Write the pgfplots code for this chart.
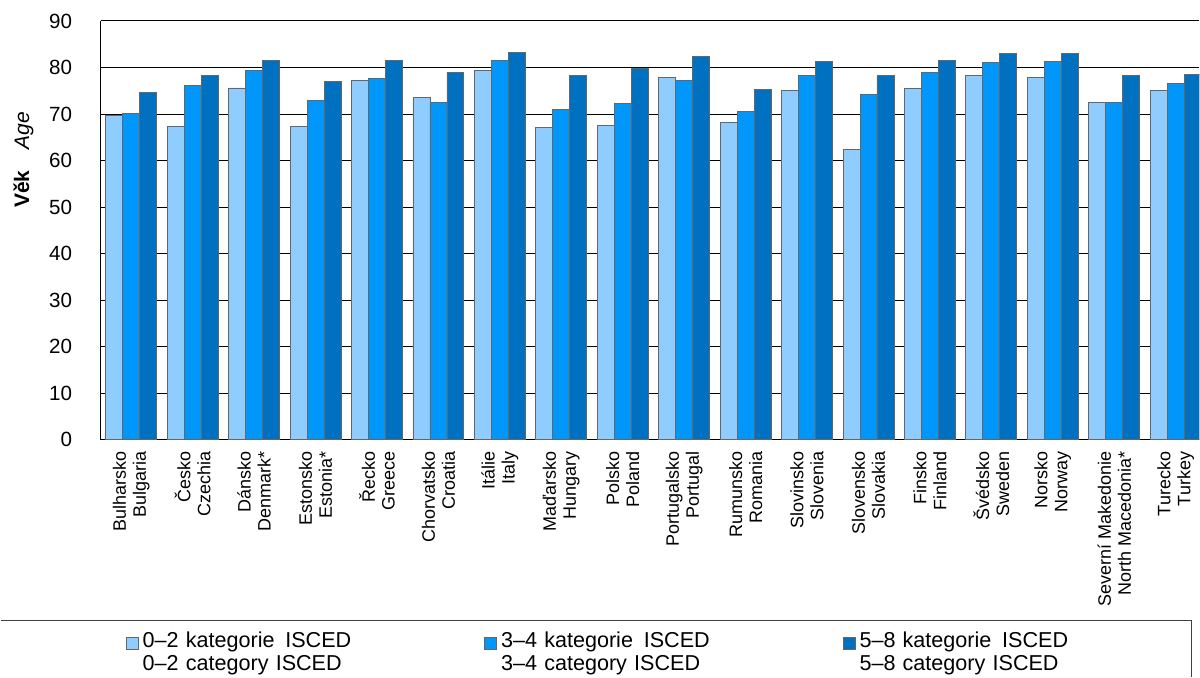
\documentclass[border=0pt]{standalone}
\usepackage{pgfplots}
\pgfplotsset{compat=1.18}
\usepackage{fontspec}
\setmainfont{Liberation Sans}

\definecolor{isA}{RGB}{143,204,255}
\definecolor{isB}{RGB}{0,150,250}
\definecolor{isC}{RGB}{0,112,192}

\begin{document}
\begin{tikzpicture}
% frame of the whole picture: 1200x678 px, 1px = 0.5pt
\path (0,0) rectangle (600pt,-339pt);
\begin{axis}[
    at={(50pt,-220pt)}, anchor=south west,
    scale only axis, width=550pt, height=209.5pt,
    ybar=0pt, bar width=8.5pt,
    % the reference is cut off inside the last group
    xmin=-0.5, xmax=17.386, ymin=0, ymax=90,
    axis x line*=bottom, axis y line*=left,
    ytick distance=10,
    xtick={0,...,17},
    xticklabels={{Bulharsko\\Bulgaria},{Česko\\Czechia},{Dánsko\\Denmark*},
        {Estonsko\\Estonia*},{Řecko\\Greece},{Chorvatsko\\Croatia},{Itálie\\Italy},
        {Maďarsko\\Hungary},{Polsko\\Poland},{Portugalsko\\Portugal},
        {Rumunsko\\Romania},{Slovinsko\\Slovenia},{Slovensko\\Slovakia},
        {Finsko\\Finland},{Švédsko\\Sweden},{Norsko\\Norway},
        {Severní Makedonie\\North Macedonia*},{Turecko\\Turkey}},
    xticklabel style={rotate=90, anchor=east, align=right,
        inner xsep=6pt, inner ysep=0pt,
        font=\fontsize{9}{10}\selectfont},
    yticklabel style={font=\fontsize{10.3}{12}\selectfont, inner sep=0pt, xshift=-14pt},
    /pgf/number format/assume math mode=true,
    major tick length=0pt,
    ymajorgrids,
    major grid style={black, line width=0.5pt},
    axis line style={black, line width=0.6pt, -},
    legend image code/.code={\draw[#1,draw=black!60,line width=0.4pt] (0pt,-3pt) rectangle (6pt,3pt);},
    legend cell align=left,
    legend columns=3,
    legend style={at={(0.0227,-0.4575)}, anchor=north west, draw=none, fill=none,
        inner sep=0pt, font=\fontsize{10.8}{12}\selectfont,
        nodes={text width=160pt, align=left, inner xsep=2pt, inner ysep=0.75pt,
            text height=7.5pt, text depth=2.5pt},
        /tikz/every odd column/.append style={column sep=0pt},
        /tikz/every even column/.append style={column sep=9pt}},
]
\addplot[fill=isA, draw=black!60, line width=0.4pt] coordinates {
    (0,69.6) (1,67.4) (2,75.6) (3,67.4) (4,77.3) (5,73.5) (6,79.3) (7,67.2) (8,67.5)
    (9,77.9) (10,68.2) (11,75.0) (12,62.4) (13,75.5) (14,78.2) (15,77.9) (16,72.4) (17,75.0)};
\addlegendentry{0–2 kategorie\, ISCED}
\addplot[fill=isB, draw=black!60, line width=0.4pt] coordinates {
    (0,70.2) (1,76.2) (2,79.3) (3,73.0) (4,77.6) (5,72.5) (6,81.6) (7,70.9) (8,72.2)
    (9,77.3) (10,70.6) (11,78.2) (12,74.2) (13,78.9) (14,81.0) (15,81.3) (16,72.4) (17,76.6)};
\addlegendentry{3–4 kategorie\, ISCED}
\addplot[fill=isC, draw=black!60, line width=0.4pt] coordinates {
    (0,74.6) (1,78.3) (2,81.6) (3,77.0) (4,81.6) (5,79.0) (6,83.3) (7,78.2) (8,79.8)
    (9,82.3) (10,75.2) (11,81.3) (12,78.2) (13,81.6) (14,83.0) (15,83.0) (16,78.2) (17,78.6)};
\addlegendentry{5–8 kategorie\, ISCED}
\addlegendimage{empty legend}\addlegendentry{0–2 category ISCED}
\addlegendimage{empty legend}\addlegendentry{3–4 category ISCED}
\addlegendimage{empty legend}\addlegendentry{5–8 category ISCED}
\end{axis}
\node[rotate=90, font=\fontsize{10.5}{12}\selectfont] at (11.5pt,-80pt)
    {\textbf{Věk}\quad\textit{Age}};
% legend frame, cut by the picture edge
\draw[black!75, line width=0.6pt] (0pt,-310.5pt) -- (596pt,-310.5pt) -- (596pt,-339pt);
\end{tikzpicture}
\end{document}
